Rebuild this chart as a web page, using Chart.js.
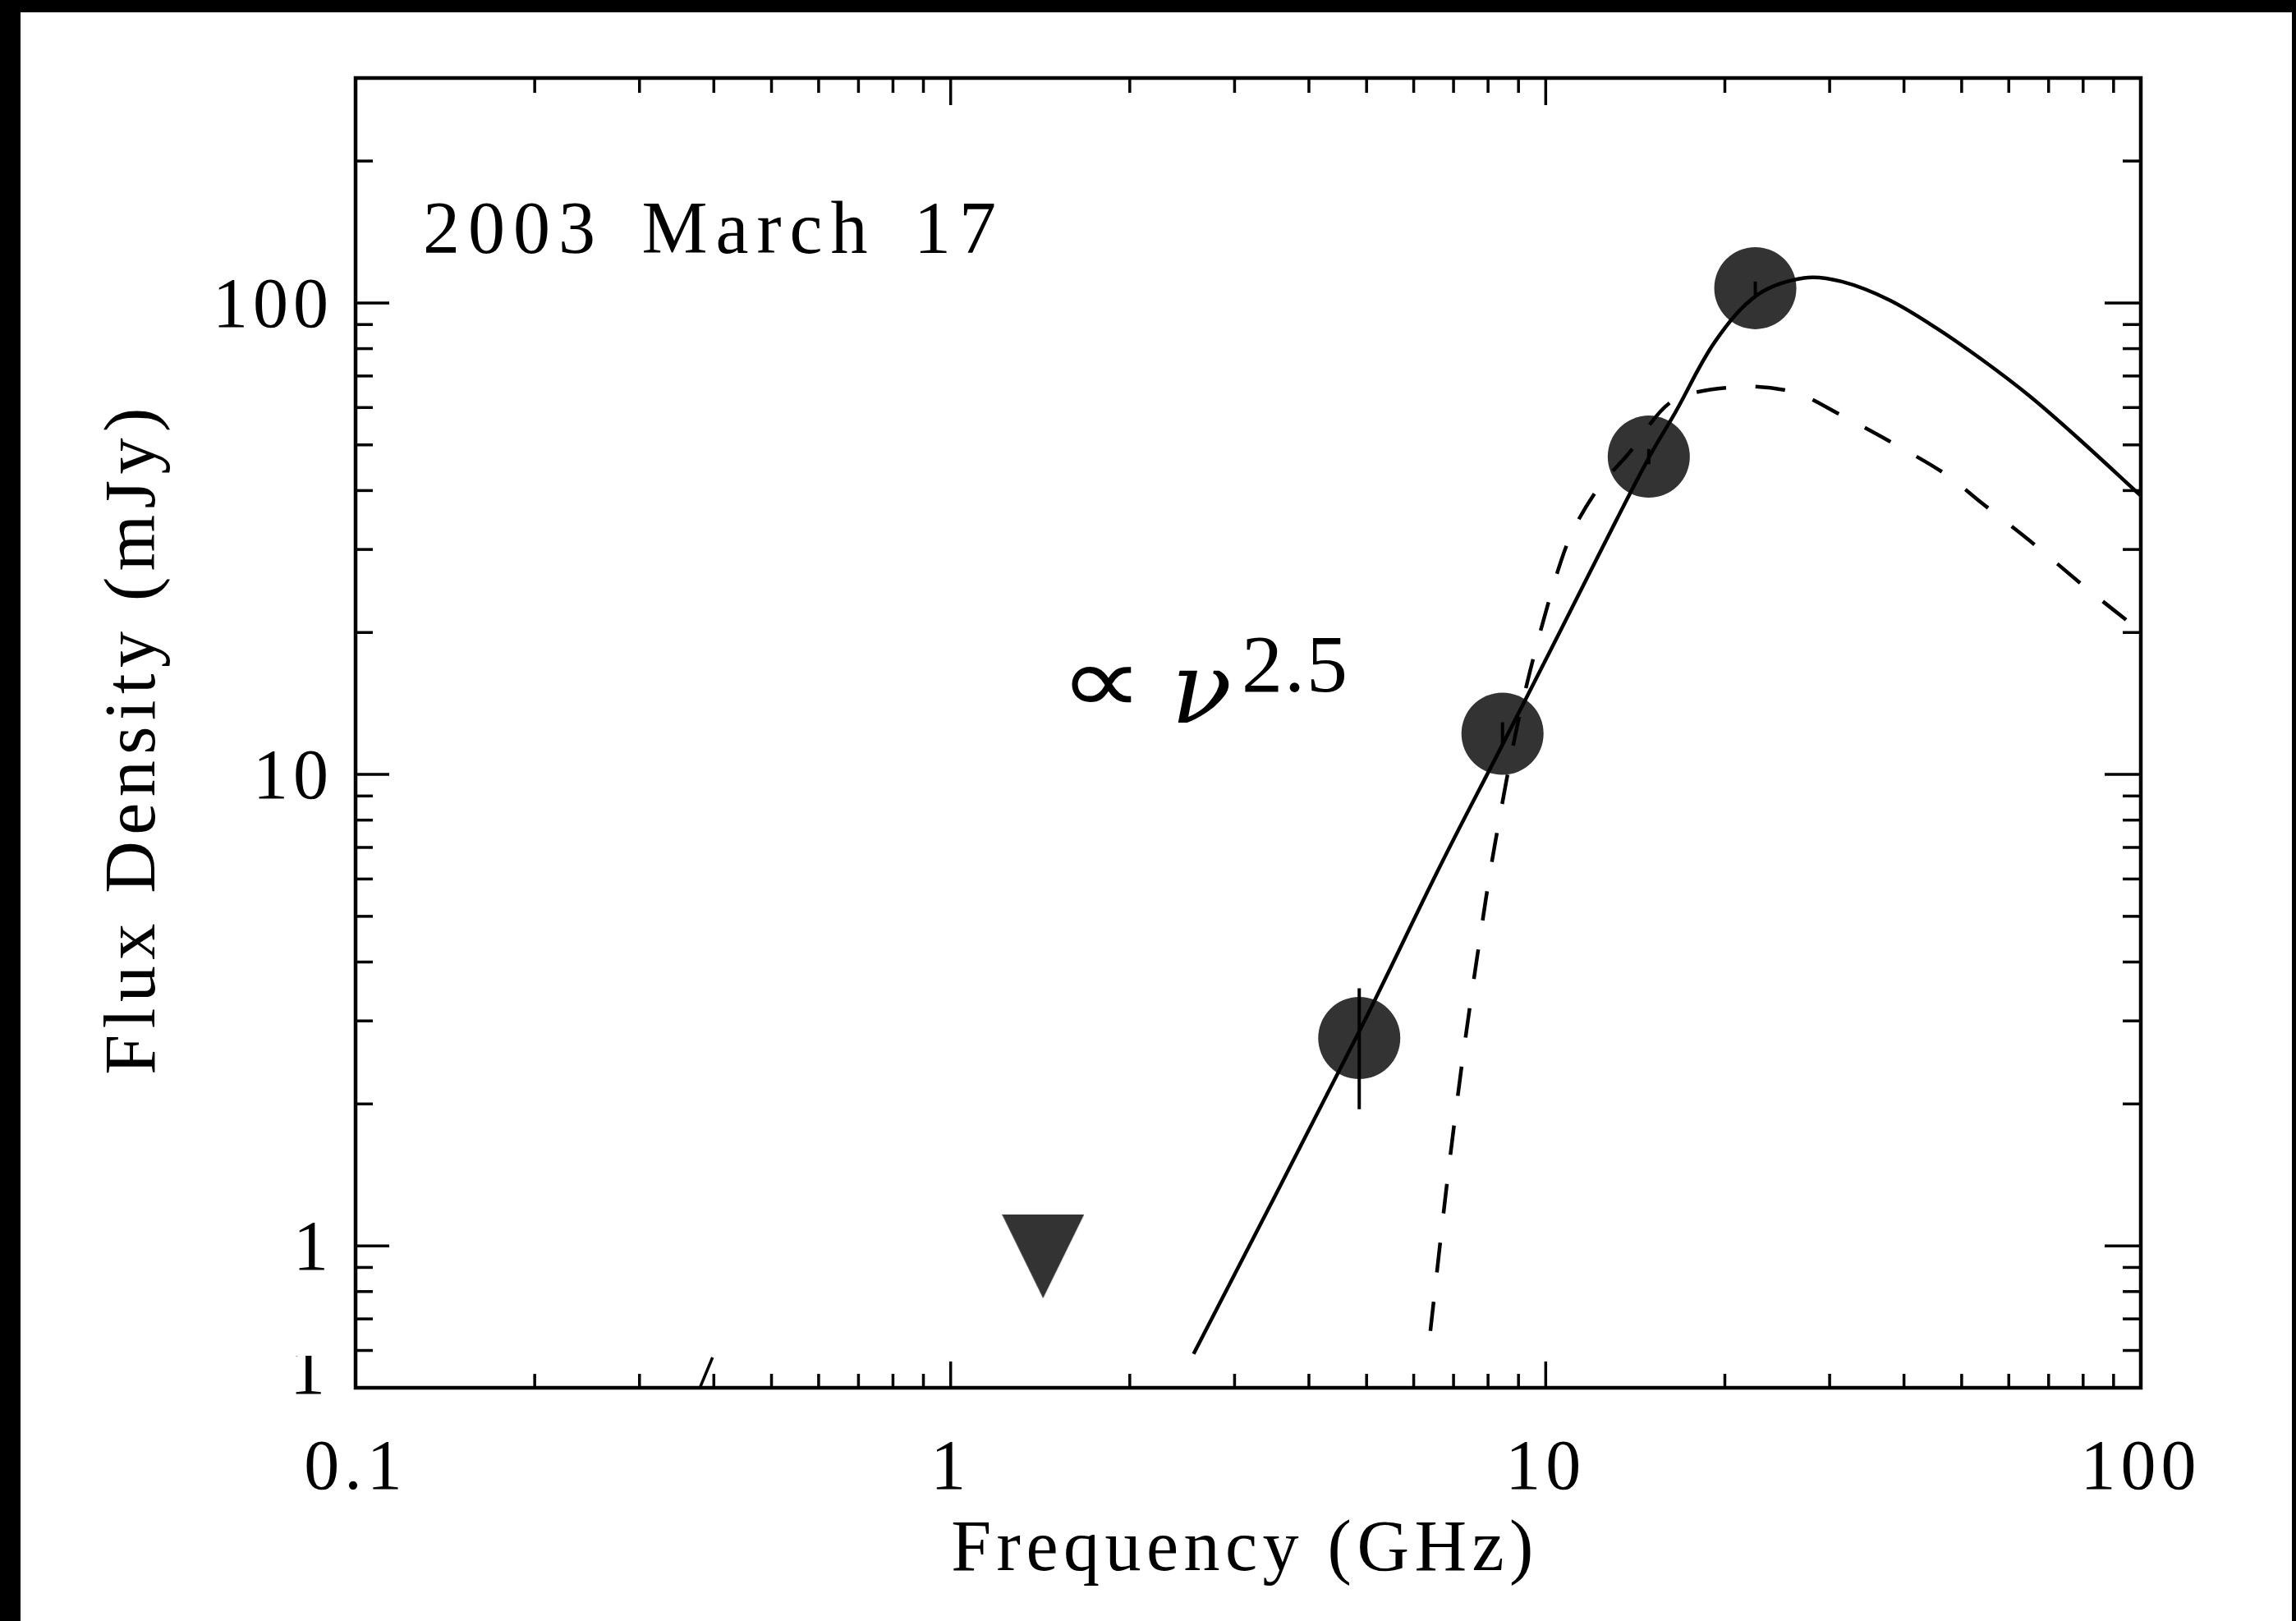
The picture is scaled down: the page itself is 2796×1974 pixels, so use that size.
<!DOCTYPE html>
<html>
<head>
<meta charset="utf-8">
<title>2003 March 17 spectrum</title>
<script src="https://cdn.jsdelivr.net/npm/chart.js@4.4.1/dist/chart.umd.min.js"></script>
<style>
  html, body { margin: 0; padding: 0; background: #000; }
  #wrap { position: absolute; left: 0; top: 0; width: 2796px; height: 1974px; }
</style>
</head>
<body>
<div id="wrap"><canvas id="specChart"></canvas></div>
<script>
// tick labels
const freqTicks = [0.1, 1, 10, 100];
const freqTickLabels = ['0.1', '1', '10', '100'];
const fluxTicks = [1, 10, 100];
const fluxTickLabels = ['1', '10', '100'];

const detFreq = [4.86, 8.46, 14.9, 22.5];
const detFlux = [2.76, 12.2, 47.2, 107.5];
const detLow  = [1.95, 11.5, 45.5, 104];
const detHigh = [3.52, 12.9, 49.0, 111];

// upper limit (triangle)
const limitFreq = [1.43];
const limitFlux = [0.95];

// solid model curve
const solidFreq = [2.56, 4.86, 6.65, 8.41, 10.57, 13.17, 14.95, 16.5, 19.28, 22.68, 27.17, 31.45, 37.7, 45.2, 54.1, 64.9, 78.0, 100];
const solidFlux = [0.59, 2.85, 6.4, 11.4, 20.1, 34.8, 47.3, 58.5, 83.0, 104.0, 113.0, 111.0, 101.6, 88.7, 75.8, 63.6, 52.0, 39.0];

// dashed model curve
const dashFreq = [6.40, 6.84, 7.31, 7.92, 8.23, 8.97, 9.89, 10.95, 12.24, 13.72, 16.35, 21.07, 26.24, 31.45, 37.7, 46.9, 54.1, 64.9, 80.8, 100];
const dashFlux = [0.66, 1.39, 2.69, 5.37, 7.2, 12.8, 21.0, 31.6, 40.4, 47.6, 62.0, 66.4, 64.6, 57.7, 51.0, 43.4, 37.6, 31.4, 24.9, 20.1];

// little stroke left over in the pasted strip at the bottom
const stubFreq = [0.379, 0.398];
const stubFlux = [0.50, 0.58];

const toXY = (xs, ys) => xs.map((x, i) => ({ x: x, y: ys[i] }));

// downward triangle marker
const tri = document.createElement('canvas');
tri.width = 100; tri.height = 102;
const tc = tri.getContext('2d');
tc.fillStyle = '#333';
tc.beginPath();
tc.moveTo(0, 0); tc.lineTo(100, 0); tc.lineTo(50, 102); tc.closePath();
tc.fill();

const SERIF = "'Liberation Serif', 'DejaVu Serif', serif";

const framePlugin = {
  id: 'frame',
  beforeDraw(chart) {
    const ctx = chart.ctx;
    ctx.save();
    ctx.fillStyle = '#000';
    ctx.fillRect(0, 0, chart.width, chart.height);
    ctx.fillStyle = '#fff';
    ctx.fillRect(25, 15, 2791 - 25, chart.height - 15);
    ctx.restore();
    ctx.letterSpacing = '6px';
  },
  afterDatasetsDraw(chart) {
    const ctx = chart.ctx;
    const xs = chart.scales.x, ys = chart.scales.y;
    ctx.save();
    ctx.strokeStyle = '#000';
    ctx.lineWidth = 4;
    detFreq.forEach((f, i) => {
      const px = xs.getPixelForValue(f);
      ctx.beginPath();
      ctx.moveTo(px, ys.getPixelForValue(detLow[i]));
      ctx.lineTo(px, ys.getPixelForValue(detHigh[i]));
      ctx.stroke();
    });
    ctx.restore();
  },
  afterDraw(chart) {
    const ctx = chart.ctx;
    const a = chart.chartArea;
    const xs = chart.scales.x, ys = chart.scales.y;
    ctx.save();
    ctx.letterSpacing = '0px';
    ctx.strokeStyle = '#000';

    // inward ticks on all four sides
    ctx.lineWidth = 3.5;
    const xMinor = [], yMinor = [];
    [0.1, 1, 10].forEach(d => { for (let k = 2; k <= 9; k++) xMinor.push(k * d); });
    [0.1, 1, 10, 100].forEach(d => { for (let k = 2; k <= 9; k++) yMinor.push(k * d); });
    const tick = (x1, y1, x2, y2) => { ctx.beginPath(); ctx.moveTo(x1, y1); ctx.lineTo(x2, y2); ctx.stroke(); };
    xMinor.forEach(v => {
      const p = xs.getPixelForValue(v);
      tick(p, a.bottom, p, a.bottom - 17);
      tick(p, a.top, p, a.top + 18);
    });
    freqTicks.forEach(v => {
      const p = xs.getPixelForValue(v);
      tick(p, a.bottom, p, a.bottom - 32);
      tick(p, a.top, p, a.top + 33);
    });
    yMinor.forEach(v => {
      if (v <= ys.min || v >= ys.max) return;
      const p = ys.getPixelForValue(v);
      tick(a.left, p, a.left + 21, p);
      tick(a.right, p, a.right - 22, p);
    });
    fluxTicks.forEach(v => {
      const p = ys.getPixelForValue(v);
      tick(a.left, p, a.left + 41, p);
      tick(a.right, p, a.right - 44, p);
    });

    // box
    ctx.lineWidth = 4.5;
    ctx.strokeRect(a.left, a.top, a.right - a.left, a.bottom - a.top);

    ctx.fillStyle = '#000';
    ctx.textBaseline = 'alphabetic';

    // date label
    ctx.font = '90px ' + SERIF;
    ctx.letterSpacing = '10px';
    ctx.wordSpacing = '14px';
    ctx.textAlign = 'left';
    ctx.fillText('2003 March 17', 515, 308);
    ctx.wordSpacing = '0px';

    // x title
    ctx.font = '88px ' + SERIF;
    ctx.letterSpacing = '6.5px';
    ctx.textAlign = 'center';
    ctx.fillText('Frequency (GHz)', 1516, 1912);

    // y title
    ctx.save();
    ctx.translate(188, 902);
    ctx.rotate(-Math.PI / 2);
    ctx.letterSpacing = '7.5px';
    ctx.fillText('Flux Density (mJy)', 3, 0);
    ctx.restore();

    // slope annotation
    ctx.textAlign = 'left';
    ctx.letterSpacing = '0px';
    ctx.save();
    ctx.translate(1290, 868);
    ctx.scale(1.25, 1.0);
    ctx.font = "200 115px 'DejaVu Sans', serif";
    ctx.fillText('\u221D', 0, 0);
    ctx.restore();
    ctx.font = "italic 122px 'DejaVu Serif', serif";
    ctx.fillText('\u03BD', 1426, 880);
    ctx.font = '100px ' + SERIF;
    ctx.letterSpacing = '2px';
    ctx.fillText('2.5', 1512, 842);

    // stray label in the pasted strip
    ctx.save();
    ctx.beginPath();
    ctx.rect(300, 1651, 120, 80);
    ctx.clip();
    ctx.font = '86px ' + SERIF;
    ctx.letterSpacing = '0px';
    ctx.textAlign = 'right';
    ctx.fillText('1', 396, 1697);
    ctx.restore();

    ctx.restore();
  }
};

new Chart(document.getElementById('specChart'), {
  type: 'scatter',
  data: {
    datasets: [
      {
        type: 'line',
        data: toXY(solidFreq, solidFlux),
        borderColor: '#000',
        borderWidth: 4.5,
        pointRadius: 0,
        tension: 0.35,
        fill: false,
        order: 0
      },
      {
        type: 'line',
        data: toXY(dashFreq, dashFlux),
        borderColor: '#000',
        borderWidth: 4.5,
        borderDash: [36, 36],
        pointRadius: 0,
        tension: 0.3,
        fill: false,
        order: 0
      },
      {
        type: 'line',
        data: toXY(stubFreq, stubFlux),
        borderColor: '#000',
        borderWidth: 3.5,
        pointRadius: 0,
        fill: false,
        order: 0
      },
      {
        data: toXY(detFreq, detFlux),
        pointStyle: 'circle',
        pointRadius: 50,
        pointHoverRadius: 50,
        backgroundColor: '#333',
        borderWidth: 0,
        order: 2
      },
      {
        data: toXY(limitFreq, limitFlux),
        pointStyle: tri,
        order: 2
      }
    ]
  },
  options: {
    responsive: true,
    maintainAspectRatio: false,
    animation: false,
    layout: { padding: { left: 0, top: 95, right: 189, bottom: 0 } },
    plugins: {
      legend: { display: false },
      tooltip: { enabled: false }
    },
    scales: {
      x: {
        type: 'logarithmic',
        min: 0.1,
        max: 100,
        grid: { display: false },
        border: { display: false },
        afterBuildTicks: s => { s.ticks = freqTicks.map(v => ({ value: v })); },
        afterFit: s => { s.height = 284; },
        ticks: {
          autoSkip: false,
          maxRotation: 0,
          padding: 41,
          color: '#000',
          font: { family: SERIF, size: 86 },
          callback: v => freqTickLabels[freqTicks.indexOf(v)]
        }
      },
      y: {
        type: 'logarithmic',
        min: 0.5,
        max: 300,
        grid: { display: false },
        border: { display: false },
        afterBuildTicks: s => { s.ticks = fluxTicks.map(v => ({ value: v })); },
        afterFit: s => { s.width = 433; },
        ticks: {
          autoSkip: false,
          padding: 19,
          labelOffset: 6,
          color: '#000',
          font: { family: SERIF, size: 86 },
          callback: v => fluxTickLabels[fluxTicks.indexOf(v)]
        }
      }
    }
  },
  plugins: [framePlugin]
});
</script>
</body>
</html>
